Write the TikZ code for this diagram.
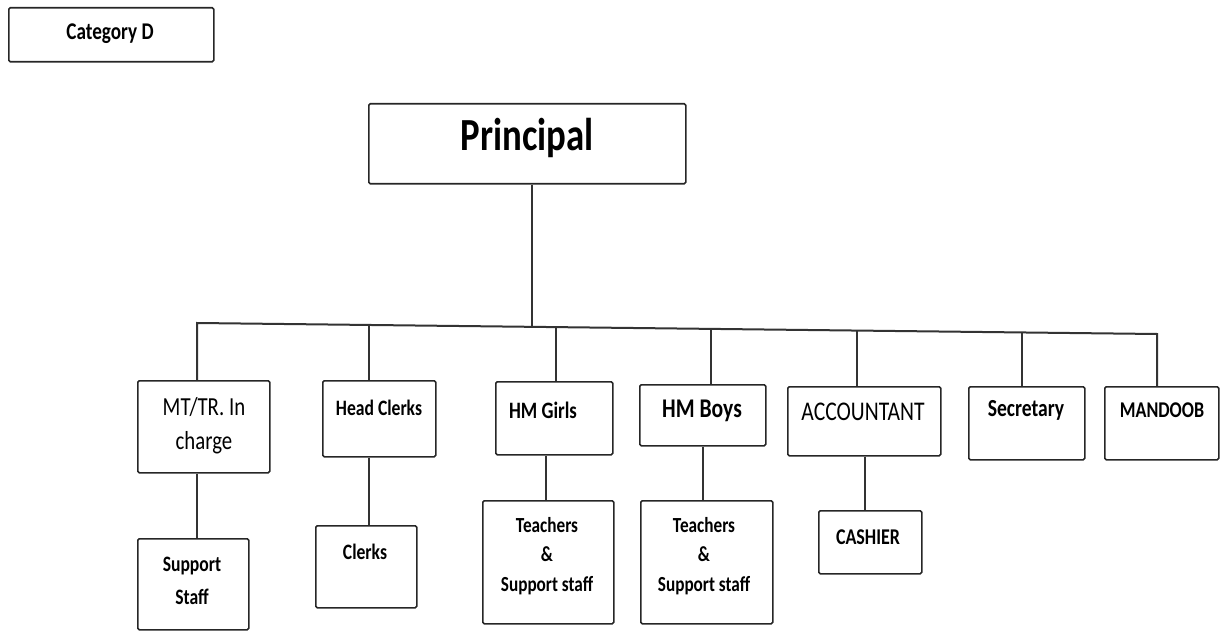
\documentclass[tikz,border=0pt]{standalone}
\usepackage{fontspec}
\setmainfont[FakeStretch=0.8]{Carlito}
\begin{document}
\begin{tikzpicture}[x=1pt,y=-1pt,
  box/.style={draw=black!85, line width=1.6pt, rounded corners=1.5pt, inner sep=0pt, anchor=north west},
  link/.style={draw=black!80, line width=2pt},
  lbl/.style={inner sep=0pt, align=center, text=black},
  bt/.style={lbl, font=\bfseries\fontsize{22}{24}\selectfont},
  rt/.style={lbl, font=\fontsize{26}{34}\selectfont}]
\useasboundingbox (0,0) rectangle (1221,631);
% boxes
\node[box, minimum width=205pt, minimum height=54pt] (cat) at (8,7) {};
\node[box, minimum width=317pt, minimum height=80pt] (prin) at (368,103) {};
\node[box, minimum width=132pt, minimum height=92pt] (mt) at (137,380) {};
\node[box, minimum width=113pt, minimum height=76pt] (hc) at (322,380) {};
\node[box, minimum width=117pt, minimum height=73pt] (hg) at (495,381) {};
\node[box, minimum width=126pt, minimum height=61pt] (hb) at (639,384) {};
\node[box, minimum width=153pt, minimum height=69pt] (acc) at (787,386) {};
\node[box, minimum width=116pt, minimum height=73pt] (sec) at (968,386) {};
\node[box, minimum width=114pt, minimum height=73pt] (man) at (1104,386) {};
\node[box, minimum width=111pt, minimum height=91pt] (ss) at (137,538) {};
\node[box, minimum width=101pt, minimum height=82pt] (cl) at (315,525) {};
\node[box, minimum width=131pt, minimum height=123pt] (tg) at (482,500) {};
\node[box, minimum width=132pt, minimum height=123pt] (tb) at (640,500) {};
\node[box, minimum width=103pt, minimum height=63pt] (ca) at (818,510) {};
% texts
\node[lbl, font=\bfseries\fontsize{24}{26}\selectfont] (catt) at (110,34) {Category D};
\node[lbl, font=\bfseries\fontsize{46}{50}\selectfont] (print) at (527,138) {Principal};
\node[rt] (mtt) at (204,426) {MT/TR. In\\charge};
\node[bt] (hct) at (379,408) {Head Clerks};
\node[bt, font=\bfseries\fontsize{23.5}{24}\selectfont] (hgt) at (543,410) {HM Girls};
\node[bt, font=\bfseries\fontsize{27}{28}\selectfont] (hbt) at (702,411) {HM Boys};
\node[rt, font=\fontsize{27}{34}\selectfont] (acct) at (863,412) {ACCOUNTANT};
\node[bt, font=\bfseries\fontsize{24.5}{26}\selectfont] (sect) at (1026,410) {Secretary};
\node[bt, font=\bfseries\fontsize{22.5}{24}\selectfont] (mant) at (1162,410) {MANDOOB};
\node[bt, font=\bfseries\fontsize{22}{33}\selectfont] (sst) at (192,581) {Support\\Staff};
\node[bt] (clt) at (365,552) {Clerks};
\node[bt, font=\bfseries\fontsize{21.5}{29.5}\selectfont] (tgt) at (547,556) {Teachers\\\&\\Support staff};
\node[bt, font=\bfseries\fontsize{21.5}{29.5}\selectfont] (tbt) at (704,556) {Teachers\\\&\\Support staff};
\node[bt, font=\bfseries\fontsize{22.5}{24}\selectfont] (cat2) at (868,537) {CASHIER};
% bus coordinates
\coordinate (bL) at (197,323);
\coordinate (bR) at (1157,334);
\coordinate (bP) at (532,326.8);
\coordinate (d2) at (369,325);
\coordinate (d3) at (556,327);
\coordinate (d4) at (711,328.9);
\coordinate (d5) at (857,330.6);
\coordinate (d6) at (1022,332.5);
% connectors
\draw[link] (bP |- prin.south) -- (bP);
\draw[link] (bL |- mt.north) -- (bL) -- (bR) -- (bR |- man.north);
\draw[link] (d2) -- (d2 |- hc.north);
\draw[link] (d3) -- (d3 |- hg.north);
\draw[link] (d4) -- (d4 |- hb.north);
\draw[link] (d5) -- (d5 |- acc.north);
\draw[link] (d6) -- (d6 |- sec.north);
\coordinate (v1) at (197,0);
\coordinate (v2) at (369,0);
\coordinate (v3) at (546,0);
\coordinate (v4) at (703,0);
\coordinate (v5) at (865,0);
\draw[link] (v1 |- mt.south) -- (v1 |- ss.north);
\draw[link] (v2 |- hc.south) -- (v2 |- cl.north);
\draw[link] (v3 |- hg.south) -- (v3 |- tg.north);
\draw[link] (v4 |- hb.south) -- (v4 |- tb.north);
\draw[link] (v5 |- acc.south) -- (v5 |- ca.north);
\end{tikzpicture}
\end{document}
